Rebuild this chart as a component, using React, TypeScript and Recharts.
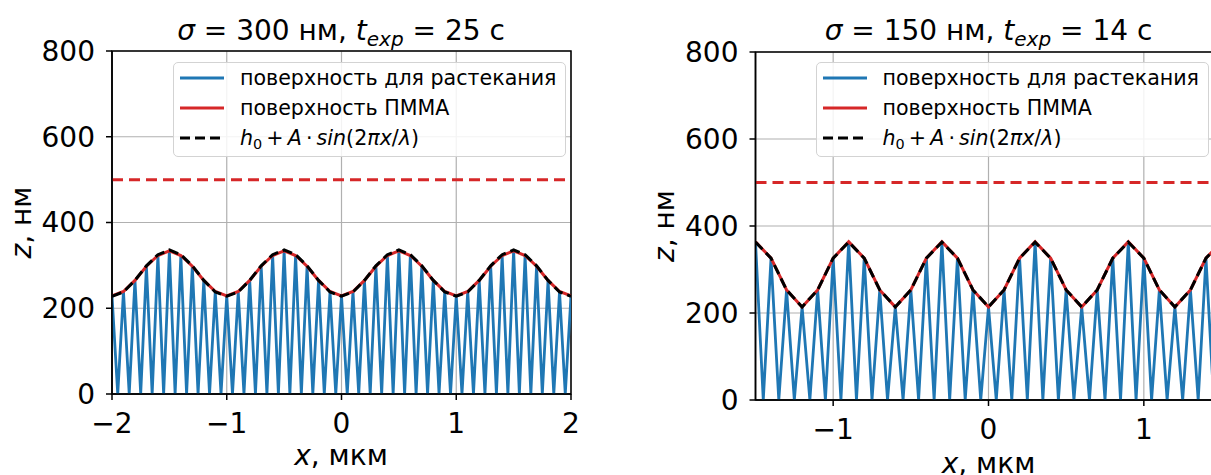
import React from 'react';
import {
  LineChart,
  Line,
  XAxis,
  YAxis,
  CartesianGrid,
  ReferenceLine,
  ReferenceArea,
  Legend
} from 'recharts';

const FONT = '"DejaVu Sans", sans-serif';

// heights of the PMMA surface at the sample points (nm)
// left: x = -2 ... 2, step 0.1
const leftTops = [
  229, 239, 265, 298, 323, 334, 323, 298, 265, 239,
  229, 239, 265, 298, 323, 334, 323, 298, 265, 239,
  229, 239, 265, 298, 323, 334, 323, 298, 265, 239,
  229, 239, 265, 298, 323, 334, 323, 298, 265, 239,
  229
];
const leftFit = [
  228, 238, 265, 299, 325, 336, 325, 299, 265, 238,
  228, 238, 265, 299, 325, 336, 325, 299, 265, 238,
  228, 238, 265, 299, 325, 336, 325, 299, 265, 238,
  228, 238, 265, 299, 325, 336, 325, 299, 265, 238,
  228
];
// right: x = -1.5 ... 1.5, step 0.1
const rightTops = [
  364, 326, 253, 214, 253, 326,
  364, 326, 253, 214, 253, 326,
  364, 326, 253, 214, 253, 326,
  364, 326, 253, 214, 253, 326,
  364, 326, 253, 214, 253, 326,
  364
];
const rightFit = [
  363, 326, 253, 214, 253, 326,
  363, 326, 253, 214, 253, 326,
  363, 326, 253, 214, 253, 326,
  363, 326, 253, 214, 253, 326,
  363, 326, 253, 214, 253, 326,
  363
];

const xStep = 0.1;
const pmmaLevel = 500;
const yTicks = [0, 200, 400, 600, 800];
const leftXTicks = [-2, -1, 0, 1, 2];
const rightXTicks = [-1, 0, 1];
const legendOrder = ['spread', 'pmma', 'fit'];

type Row = { x: number; spread: number; pmma: number | null; fit: number | null };

function buildRows(start: number, tops: number[], fit: number[]): Row[] {
  const rows: Row[] = [];
  tops.forEach((h, i) => {
    const x = +(start + i * xStep).toFixed(3);
    rows.push({ x, spread: h, pmma: h, fit: fit[i] });
    if (i < tops.length - 1) {
      rows.push({ x: +(x + xStep / 2).toFixed(3), spread: 0, pmma: null, fit: null });
    }
  });
  return rows;
}

const leftRows = buildRows(-2, leftTops, leftFit);
const rightRows = buildRows(-1.5, rightTops, rightFit);

const fmt = (v: number) => (v < 0 ? `\u2212${Math.abs(v)}` : `${v}`);

const legendNames: Record<string, React.ReactNode> = {
  spread: 'поверхность для растекания',
  pmma: 'поверхность ПММА',
  fit: (
    <>
      <i>h</i>
      <span style={{ fontSize: '0.7em', verticalAlign: '-0.25em', lineHeight: 0 }}>0</span>
      {'\u2009+\u2009'}<i>A</i>{'\u2009\u00b7\u2009'}<i>sin</i>(2<i>πx</i>/<i>λ</i>)
    </>
  ),
};

function LegendBox(props: any) {
  const items = [...(props.payload || [])].sort(
    (a: any, b: any) => legendOrder.indexOf(a.dataKey) - legendOrder.indexOf(b.dataKey)
  );
  return (
    <div
      style={{
        width: 393,
        height: 95,
        boxSizing: 'border-box',
        border: '1.3px solid #d3d3d3',
        borderRadius: 5,
        background: 'rgba(255,255,255,0.85)',
        fontFamily: FONT,
        fontSize: 20.6,
        color: '#000',
      }}
    >
      {items.map((it: any) => (
        <div key={it.dataKey} style={{ display: 'flex', alignItems: 'center', height: 30 }}>
          <svg width={66} height={10} style={{ flex: 'none' }}>
            <line
              x1={6}
              x2={50}
              y1={5}
              y2={5}
              stroke={it.color}
              strokeWidth={3}
              strokeDasharray={it.payload?.strokeDasharray}
            />
          </svg>
          <span style={{ whiteSpace: 'nowrap', lineHeight: 1 }}>{legendNames[it.dataKey]}</span>
        </div>
      ))}
    </div>
  );
}

interface PanelProps {
  rows: Row[];
  width: number;
  height: number;
  margin: { top: number; right: number; bottom: number; left: number };
  domain: [number, number];
  xTicks: number[];
  legendLeft: number;
}

function Panel({ rows, width, height, margin, domain, xTicks, legendLeft }: PanelProps) {
  const tickStyle = { fontSize: 28, fill: '#000', fontFamily: FONT };
  return (
    <LineChart width={width} height={height} data={rows} margin={margin}>
      <CartesianGrid stroke="#b0b0b0" strokeWidth={1.2} />
      <XAxis
        dataKey="x"
        type="number"
        domain={domain}
        ticks={xTicks}
        allowDataOverflow
        tickFormatter={fmt}
        tick={tickStyle}
        tickSize={6}
        tickMargin={13}
        height={45}
        axisLine={{ stroke: '#000', strokeWidth: 1.5 }}
        tickLine={{ stroke: '#000', strokeWidth: 1.5 }}
      />
      <YAxis
        type="number"
        domain={[0, 800]}
        ticks={yTicks}
        allowDataOverflow
        tick={tickStyle}
        tickSize={6}
        tickMargin={11}
        width={92}
        axisLine={{ stroke: '#000', strokeWidth: 1.5 }}
        tickLine={{ stroke: '#000', strokeWidth: 1.5 }}
      />
      <Line
        type="linear"
        dataKey="spread"
        name="поверхность для растекания"
        stroke="#1f77b4"
        strokeWidth={2.8}
        dot={false}
        activeDot={false}
        isAnimationActive={false}
      />
      <Line
        type="linear"
        dataKey="pmma"
        name="поверхность ПММА"
        stroke="#d62728"
        strokeWidth={3}
        connectNulls
        dot={false}
        activeDot={false}
        isAnimationActive={false}
      />
      <Line
        type="linear"
        dataKey="fit"
        name="fit"
        stroke="#000"
        strokeWidth={3}
        strokeDasharray="10 5"
        connectNulls
        dot={false}
        activeDot={false}
        isAnimationActive={false}
      />
      <ReferenceLine y={pmmaLevel} stroke="#d62728" strokeWidth={3} strokeDasharray="11 6" />
      <ReferenceArea
        x1={domain[0]}
        x2={domain[1]}
        y1={0}
        y2={800}
        fill="none"
        fillOpacity={0}
        stroke="#000"
        strokeWidth={1.5}
      />
      <Legend
        layout="vertical"
        align="center"
        verticalAlign="middle"
        content={<LegendBox />}
        wrapperStyle={{ left: legendLeft, top: 62, width: 393, height: 95 }}
      />
    </LineChart>
  );
}

function Title({ x, y, sigma, t }: { x: number; y: number; sigma: number; t: number }) {
  return (
    <text x={x} y={y} textAnchor="middle" fontSize={28} fontFamily={FONT} fill="#000">
      <tspan fontStyle="italic">σ</tspan> = {sigma} нм, <tspan fontStyle="italic">t</tspan>
      <tspan fontStyle="italic" fontSize={20} dy={6}>exp</tspan>
      <tspan dy={-6}> = {t} с</tspan>
    </text>
  );
}

export default function App() {
  return (
    <div style={{ position: 'absolute', left: 0, top: 0, width: 1211, height: 475, overflow: 'hidden', background: '#fff' }}>
      <div style={{ position: 'absolute', left: 0, top: 0 }}>
        <Panel
          rows={leftRows}
          width={600}
          height={475}
          margin={{ top: 51, right: 29, bottom: 36, left: 20 }}
          domain={[-2, 2]}
          xTicks={leftXTicks}
          legendLeft={173}
        />
      </div>
      <div style={{ position: 'absolute', left: 600, top: 0 }}>
        <Panel
          rows={rightRows}
          width={640}
          height={475}
          margin={{ top: 52, right: 18.5, bottom: 30, left: 63.5 }}
          domain={[-1.5, 1.5]}
          xTicks={rightXTicks}
          legendLeft={215.5}
        />
      </div>
      <svg width={1211} height={475} style={{ position: 'absolute', left: 0, top: 0, pointerEvents: 'none' }}>
        <Title x={341} y={40} sigma={300} t={25} />
        <Title x={988.5} y={40} sigma={150} t={14} />
        <text transform="translate(31,222.5) rotate(-90)" textAnchor="middle" fontSize={28} fontFamily={FONT}>
          <tspan fontStyle="italic">z</tspan>, нм
        </text>
        <text transform="translate(674,226) rotate(-90)" textAnchor="middle" fontSize={28} fontFamily={FONT}>
          <tspan fontStyle="italic">z</tspan>, нм
        </text>
        <text x={341} y={465} textAnchor="middle" fontSize={28} fontFamily={FONT}>
          <tspan fontStyle="italic">x</tspan>, мкм
        </text>
        <text x={988.5} y={473} textAnchor="middle" fontSize={28} fontFamily={FONT}>
          <tspan fontStyle="italic">x</tspan>, мкм
        </text>
      </svg>
    </div>
  );
}
